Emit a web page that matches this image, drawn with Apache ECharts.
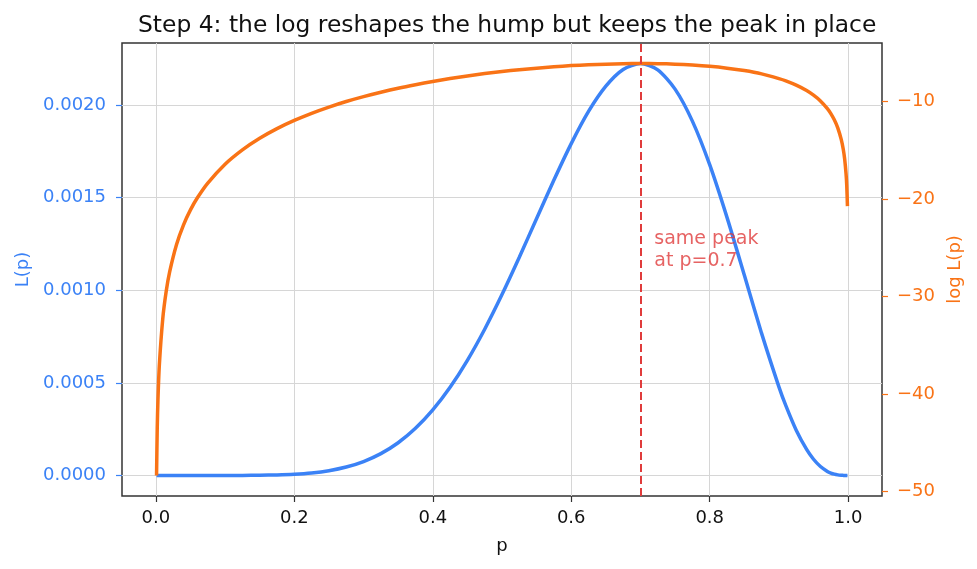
<!DOCTYPE html>
<html>
<head>
<meta charset="utf-8">
<script src="https://cdn.jsdelivr.net/npm/echarts@6/dist/echarts.min.js"></script>
<style>
	html, body { margin: 0; padding: 0; background: #fff; }
	#main { width: 977px; height: 569px; }
</style>
</head>
<body>
<div id="main"></div>
<script>
// values (p, L(p), log L(p))
var pValues = [0.001, 0.002, 0.003, 0.005, 0.01, 0.015, 0.02, 0.03, 0.04, 0.05, 0.06, 0.075, 0.1, 0.125, 0.15, 0.175, 0.2,
	0.225, 0.25, 0.275, 0.3, 0.325, 0.35, 0.375, 0.4, 0.425, 0.45, 0.475, 0.5, 0.525, 0.55, 0.575, 0.6, 0.625, 0.65, 0.675,
	0.7, 0.725, 0.75, 0.775, 0.8, 0.825, 0.85, 0.875, 0.9, 0.91, 0.925, 0.94, 0.95, 0.96, 0.97, 0.975, 0.98,
	0.985, 0.99, 0.993, 0.995, 0.997, 0.998, 0.999];
var likelihood = [0, 0, 0, 0, 0, 0, 0, 0, 0, 0.0000000007, 0.0000000023, 0.0000000105, 0.0000000729, 0.00000032, 0.00000105, 0.00000282, 0.00000655,
	0.00001358, 0.00002575, 0.0000453, 0.00007501, 0.0001179, 0.00017669, 0.0002546, 0.0003539, 0.000476, 0.0006217, 0.0007896, 0.0009766, 0.0011779, 0.0013873, 0.0015949, 0.0017916, 0.0019654, 0.0021018, 0.002192,
	0.0022236, 0.0021898, 0.0020857, 0.0019131, 0.0016777, 0.0013933, 0.0010819, 0.000767, 0.0004783, 0.0003768, 0.0002444, 0.0001402, 0.0000873, 0.0000481, 0.0000218, 0.0000131, 0.0000069,
	0.00000304, 0.00000093, 0.00000033, 0.00000012, 0.00000003, 0.00000001, 0.000000001];
var logLikelihood = [-48.36, -43.51, -40.67, -37.10, -32.27, -29.44, -27.45, -24.64, -22.65, -21.12, -19.88, -18.37, -16.43, -14.96, -13.77, -12.78, -11.94,
	-11.21, -10.57, -10.00, -9.50, -9.05, -8.64, -8.28, -7.95, -7.65, -7.38, -7.14, -6.93, -6.74, -6.58, -6.44, -6.32, -6.23, -6.17, -6.12,
	-6.11, -6.12, -6.17, -6.26, -6.39, -6.58, -6.83, -7.17, -7.65, -7.88, -8.32, -8.87, -9.35, -9.94, -10.73, -11.24, -11.88,
	-12.70, -13.89, -14.93, -15.93, -17.45, -18.66, -20.73];
var xTicks = [0, 0.2, 0.4, 0.6, 0.8, 1.0];
var leftTicks = [0, 0.0005, 0.001, 0.0015, 0.002];
var rightTicks = [-50, -40, -30, -20, -10];
var peakP = 0.7;
var noteText = 'same peak\nat p=0.7';
var notePos = [0.72, 0.0011];

var blue = '#3b82f6', orange = '#f97316', red = '#e03c3c';
var font = 'DejaVu Sans';

var lData = [], logData = [];
for (var i = 0; i < pValues.length; i++) {
	lData.push([pValues[i], likelihood[i]]);
	logData.push([pValues[i], logLikelihood[i]]);
}

var chart = echarts.init(document.getElementById('main'), null, {renderer: 'canvas'});
chart.setOption({
	animation: false,
	backgroundColor: '#fff',
	title: {
		text: 'Step 4: the log reshapes the hump but keeps the peak in place',
		left: 133,
		top: 9,
		textStyle: {fontFamily: font, fontSize: 23.4, fontWeight: 'normal', color: '#111'}
	},
	grid: {
		left: 122, right: 95, top: 43, bottom: 73,
		show: true, borderColor: '#333', borderWidth: 1.5, backgroundColor: 'transparent'
	},
	xAxis: {
		type: 'value',
		min: -0.0489, max: 1.0489,
		name: 'p', nameLocation: 'middle', nameGap: 41,
		nameTextStyle: {fontFamily: font, fontSize: 18, color: '#111'},
		axisLine: {show: false, onZero: false},
		axisTick: {show: true, length: 6, customValues: xTicks, lineStyle: {color: '#333', width: 1.2}},
		axisLabel: {customValues: xTicks, margin: 13, fontFamily: font, fontSize: 18, color: '#111',
			formatter: function (v) { return v.toFixed(1); }},
		splitLine: {show: true, lineStyle: {color: '#d6d6d6', width: 1}}
	},
	yAxis: [{
		type: 'value',
		min: -0.000111, max: 0.0023348,
		name: 'L(p)', nameLocation: 'middle', nameGap: 88, nameRotate: 90,
		nameTextStyle: {fontFamily: font, fontSize: 18, color: blue},
		axisLine: {show: false, onZero: false},
		axisTick: {show: true, length: 6, customValues: leftTicks, lineStyle: {color: blue, width: 1.2}},
		axisLabel: {customValues: leftTicks, margin: 16, fontFamily: font, fontSize: 18, color: blue,
			formatter: function (v) { return v.toFixed(4); }},
		splitLine: {show: true, lineStyle: {color: '#d6d6d6', width: 1}}
	}, {
		type: 'value',
		position: 'right',
		min: -50.47, max: -4.0,
		name: 'log L(p)', nameLocation: 'middle', nameGap: 62, nameRotate: 90,
		nameTextStyle: {fontFamily: font, fontSize: 18, color: orange},
		axisLine: {show: false, onZero: false},
		axisTick: {show: true, length: 6, customValues: rightTicks, lineStyle: {color: orange, width: 1.2}},
		axisLabel: {customValues: rightTicks, margin: 15, fontFamily: font, fontSize: 18, color: orange,
			formatter: function (v) { return v < 0 ? '\u2212' + Math.abs(v) : String(v); }},
		splitLine: {show: false}
	}],
	series: [{
		name: 'L(p)',
		type: 'line',
		data: lData,
		yAxisIndex: 0,
		smooth: 0.25,
		showSymbol: false,
		lineStyle: {color: blue, width: 3.5},
		z: 3,
		markLine: {
			silent: true,
			symbol: 'none',
			label: {show: false},
			lineStyle: {color: red, width: 2, type: [8, 4]},
			data: [{xAxis: peakP}],
			z: 6
		}
	}, {
		name: 'log L(p)',
		type: 'line',
		data: logData,
		yAxisIndex: 1,
		smooth: 0.25,
		showSymbol: false,
		lineStyle: {color: orange, width: 3.5},
		z: 4
	}, {
		name: 'note',
		type: 'scatter',
		data: [notePos],
		symbolSize: 0,
		silent: true,
		label: {
			show: true,
			position: [0, 0],
			align: 'left',
			verticalAlign: 'bottom',
			formatter: noteText,
			fontFamily: font,
			fontSize: 19,
			lineHeight: 22,
			color: red
		},
		z: 7
	}]
});
</script>
</body>
</html>
